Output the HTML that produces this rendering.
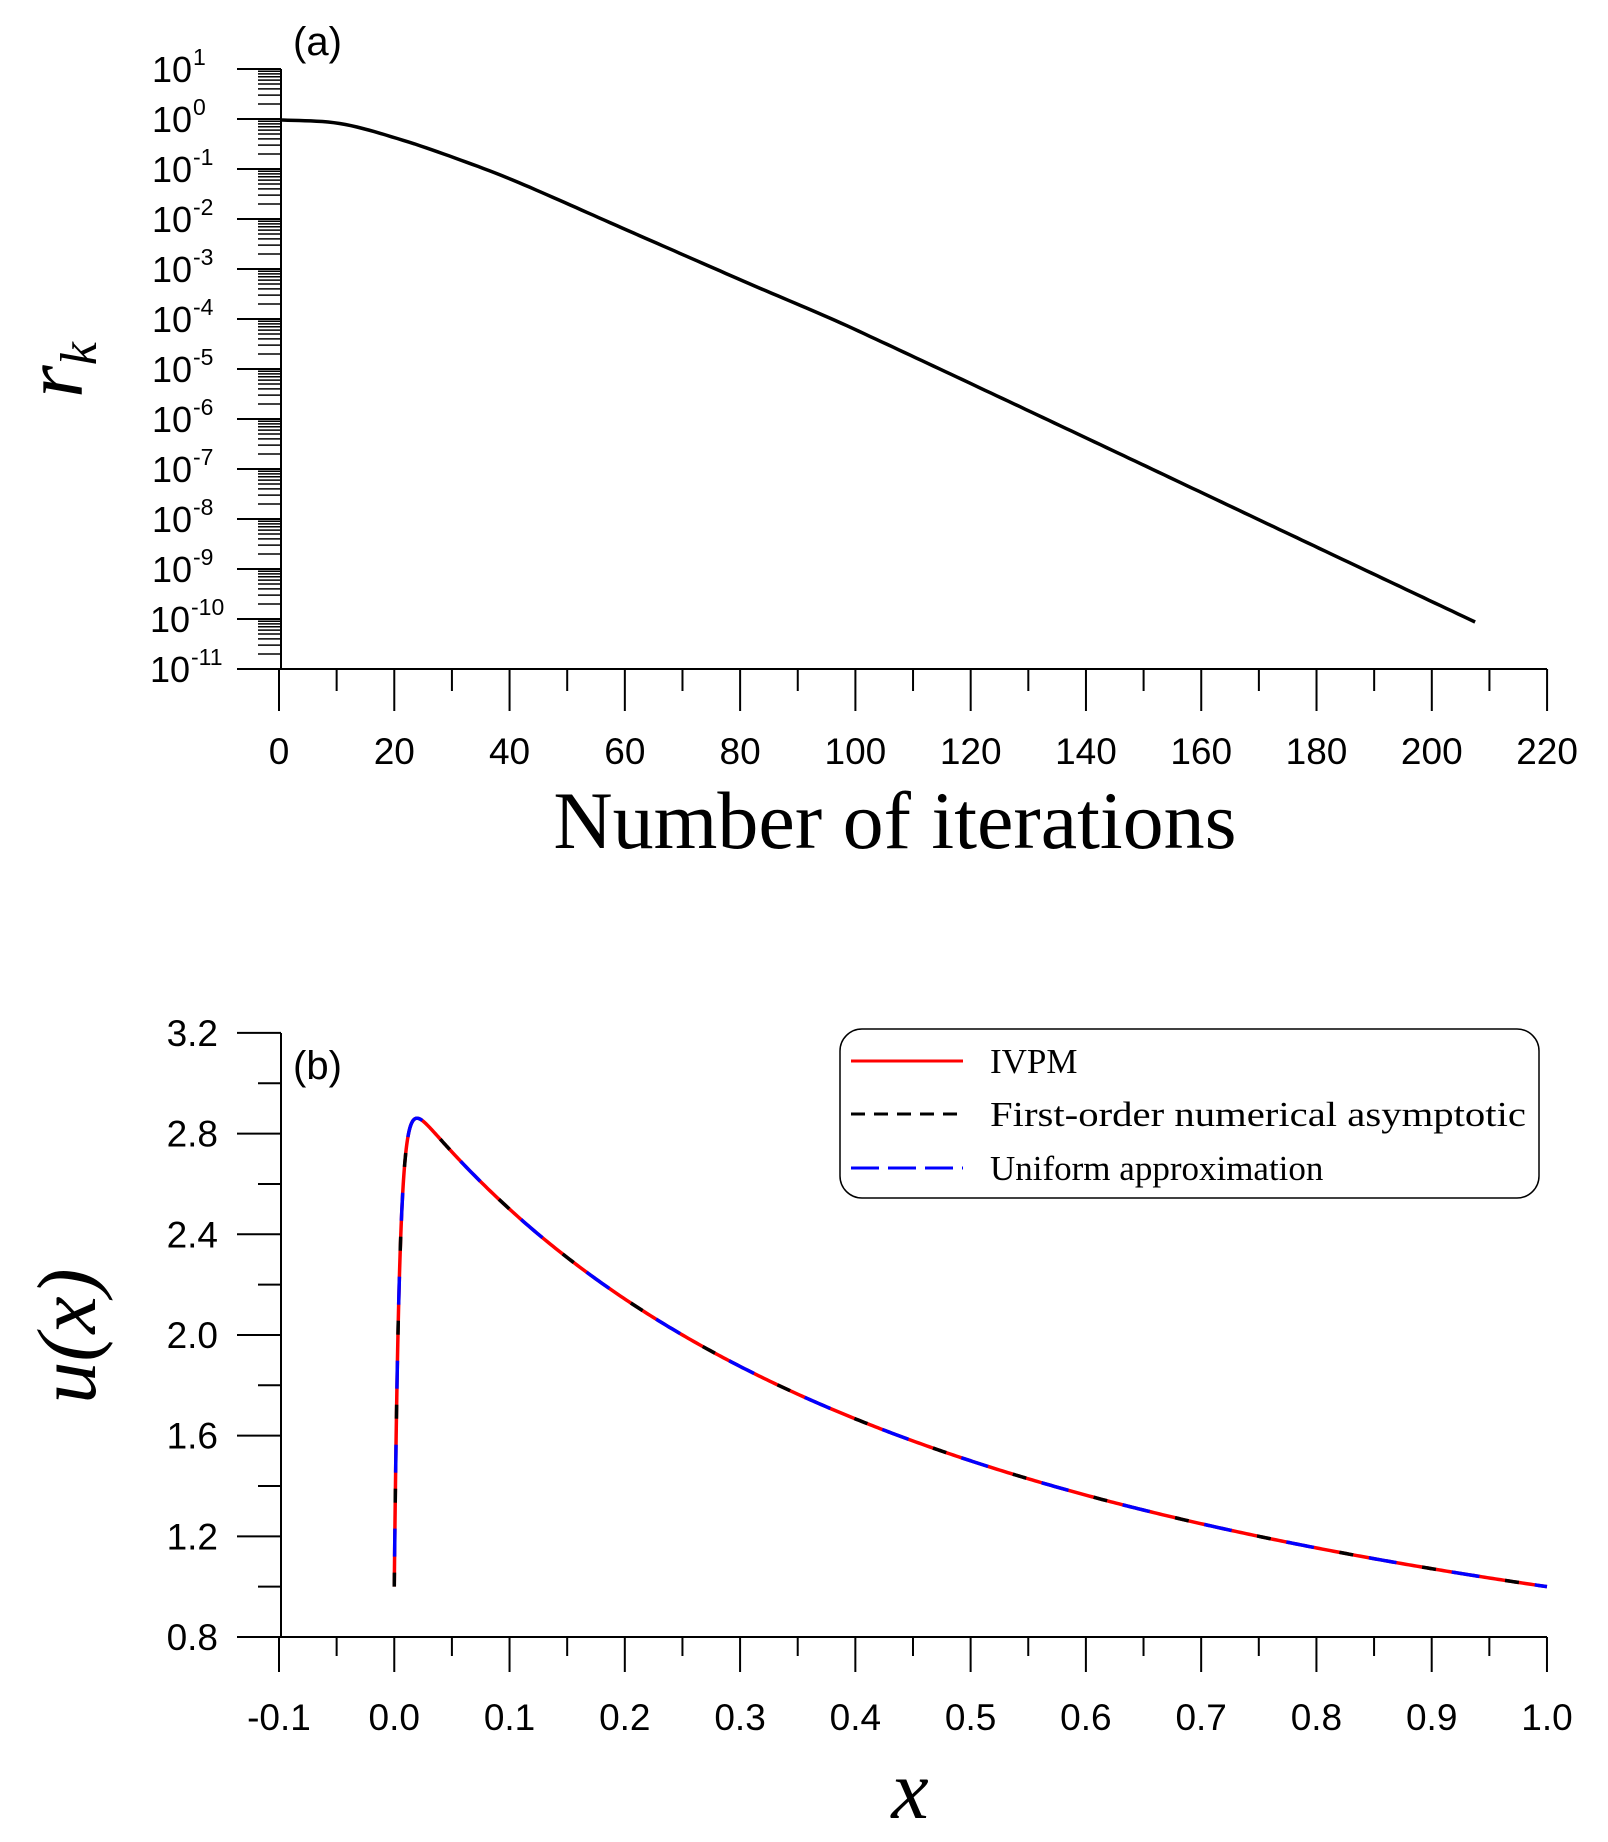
<!DOCTYPE html>
<html><head><meta charset="utf-8"><style>body{margin:0;background:#fff}svg{display:block}</style></head>
<body>
<svg id="s" width="1608" height="1842" xmlns="http://www.w3.org/2000/svg" font-family="Liberation Sans, Arial, sans-serif">
<rect width="1608" height="1842" fill="#fff"/>
<g id="g"></g>
<text x="293" y="55" font-size="40">(a)</text>
<text x="293" y="1079" font-size="40">(b)</text>
<text transform="translate(82,370) rotate(-90)" text-anchor="middle" font-family="Liberation Serif, serif" font-style="italic" font-size="84">r<tspan font-size="52" dy="14">k</tspan></text>
<text x="895" y="848" text-anchor="middle" font-family="Liberation Serif, serif" font-size="82">Number of iterations</text>
<text transform="translate(95,1336) rotate(-90)" text-anchor="middle" font-family="Liberation Serif, serif" font-style="italic" font-size="84">u(x)</text>
<text x="910" y="1818" text-anchor="middle" font-family="Liberation Serif, serif" font-style="italic" font-size="84">x</text>
<rect x="840" y="1029" width="699" height="169" rx="22" fill="#fff" stroke="#000" stroke-width="1.5"/>
<line x1="851" y1="1061" x2="963" y2="1061" stroke="red" stroke-width="3"/>
<line x1="851" y1="1114" x2="963" y2="1114" stroke="#000" stroke-width="3" stroke-dasharray="14 9"/>
<line x1="851" y1="1168" x2="963" y2="1168" stroke="blue" stroke-width="3" stroke-dasharray="28 9"/>
<g font-family="Liberation Serif, serif" font-size="35">
<text x="990" y="1073">IVPM</text>
<text x="990" y="1126" textLength="536" lengthAdjust="spacingAndGlyphs">First-order numerical asymptotic</text>
<text x="990" y="1180">Uniform approximation</text>
</g>
</svg>
<script>
var g=document.getElementById('g'),h='';
function L(a,b,c,d,w){h+='<line x1="'+a+'" y1="'+b+'" x2="'+c+'" y2="'+d+'" stroke="#000" stroke-width="'+(w||2)+'"/>';}
function T(x,y,t,a,fs){h+='<text x="'+x+'" y="'+y+'" text-anchor="'+(a||'middle')+'" font-size="'+(fs||37)+'">'+t+'</text>';}
var X0=279,XS=5.764,Y1=69,DEC=50,AY=669;
L(281,Y1,281,AY);L(279,AY,1547,AY);
for(var e=1;e>=-11;e--){var y=Y1+(1-e)*DEC;L(237,y,281,y);
 h+='<text x="'+(e<=-10?190:192)+'" y="'+(y+13)+'" text-anchor="end" font-size="36">10</text><text x="'+(e<=-10?191:193)+'" y="'+(y-4)+'" font-size="23">'+e+'</text>';
 if(e<1){for(var m=2;m<=9;m++){var yy=y-Math.log10(m)*DEC;L(258,yy,281,yy,1.5);}}}
for(var k=0;k<=220;k+=10){var x=X0+k*XS;if(k%20==0){L(x,AY,x,711);T(x,764,k);}else L(x,AY,x,691);}
var pk=[-10,0,10,20,30,40,60,80,100,207,300],pv=[0,-0.02,-0.09,-0.39,-0.78,-1.22,-2.23,-3.24,-4.24,-10.06,-15.1];
function f(k){var i=1;while(pk[i+1]<k)i++;var p0=pv[i-1],p1=pv[i],p2=pv[i+1],p3=pv[i+2];var t=(k-pk[i])/(pk[i+1]-pk[i]);
 var m1=(p2-p0)/(pk[i+1]-pk[i-1])*(pk[i+1]-pk[i]),m2=(p3-p1)/(pk[i+2]-pk[i])*(pk[i+1]-pk[i]);
 var t2=t*t,t3=t2*t;return (2*t3-3*t2+1)*p1+(t3-2*t2+t)*m1+(-2*t3+3*t2)*p2+(t3-t2)*m2;}
var d='';for(var k=0;k<=207;k+=1){d+=(k?'L':'M')+(X0+3+k*XS).toFixed(1)+' '+(Y1+(1-f(k))*DEC).toFixed(1);}
h+='<path d="'+d+'" fill="none" stroke="#000" stroke-width="3.5" stroke-linejoin="round"/>';
var BX=function(x){return 279+(x+0.1)*1152.7;},BY=function(u){return 1637-(u-0.8)*251.7;};
L(281,1033,281,1637);L(279,1637,1547,1637);
for(var i=0;i<=12;i++){var u=0.8+i*0.2,y=BY(u);if(i%2==0){L(237,y,281,y);T(218,y+13,u.toFixed(1),'end');}else L(258,y,281,y);}
for(var i=0;i<=22;i++){var x=-0.1+i*0.05,px=BX(x);if(i%2==0){L(px,1637,px,1672);T(px,1730,(Math.abs(x)<1e-9?0:x).toFixed(1));}else L(px,1637,px,1656);}
var d2='';for(var i=0;i<=600;i++){var x=i<200?Math.pow(i/200,2)*0.06:0.06+(i-200)/400*0.94;var u=1.5/(x+0.5)-2*Math.exp(-x/0.0045);
 d2+=(i?'L':'M')+BX(x).toFixed(2)+' '+BY(u).toFixed(2);}
h+='<path d="'+d2+'" fill="none" stroke="red" stroke-width="3.5"/>';
h+='<path d="'+d2+'" fill="none" stroke="#000" stroke-width="3.5" stroke-dasharray="14 70"/>';
h+='<path d="'+d2+'" fill="none" stroke="blue" stroke-width="3.5" stroke-dasharray="28 56" stroke-dashoffset="-30"/>';
g.innerHTML=h;
</script>
</body></html>
